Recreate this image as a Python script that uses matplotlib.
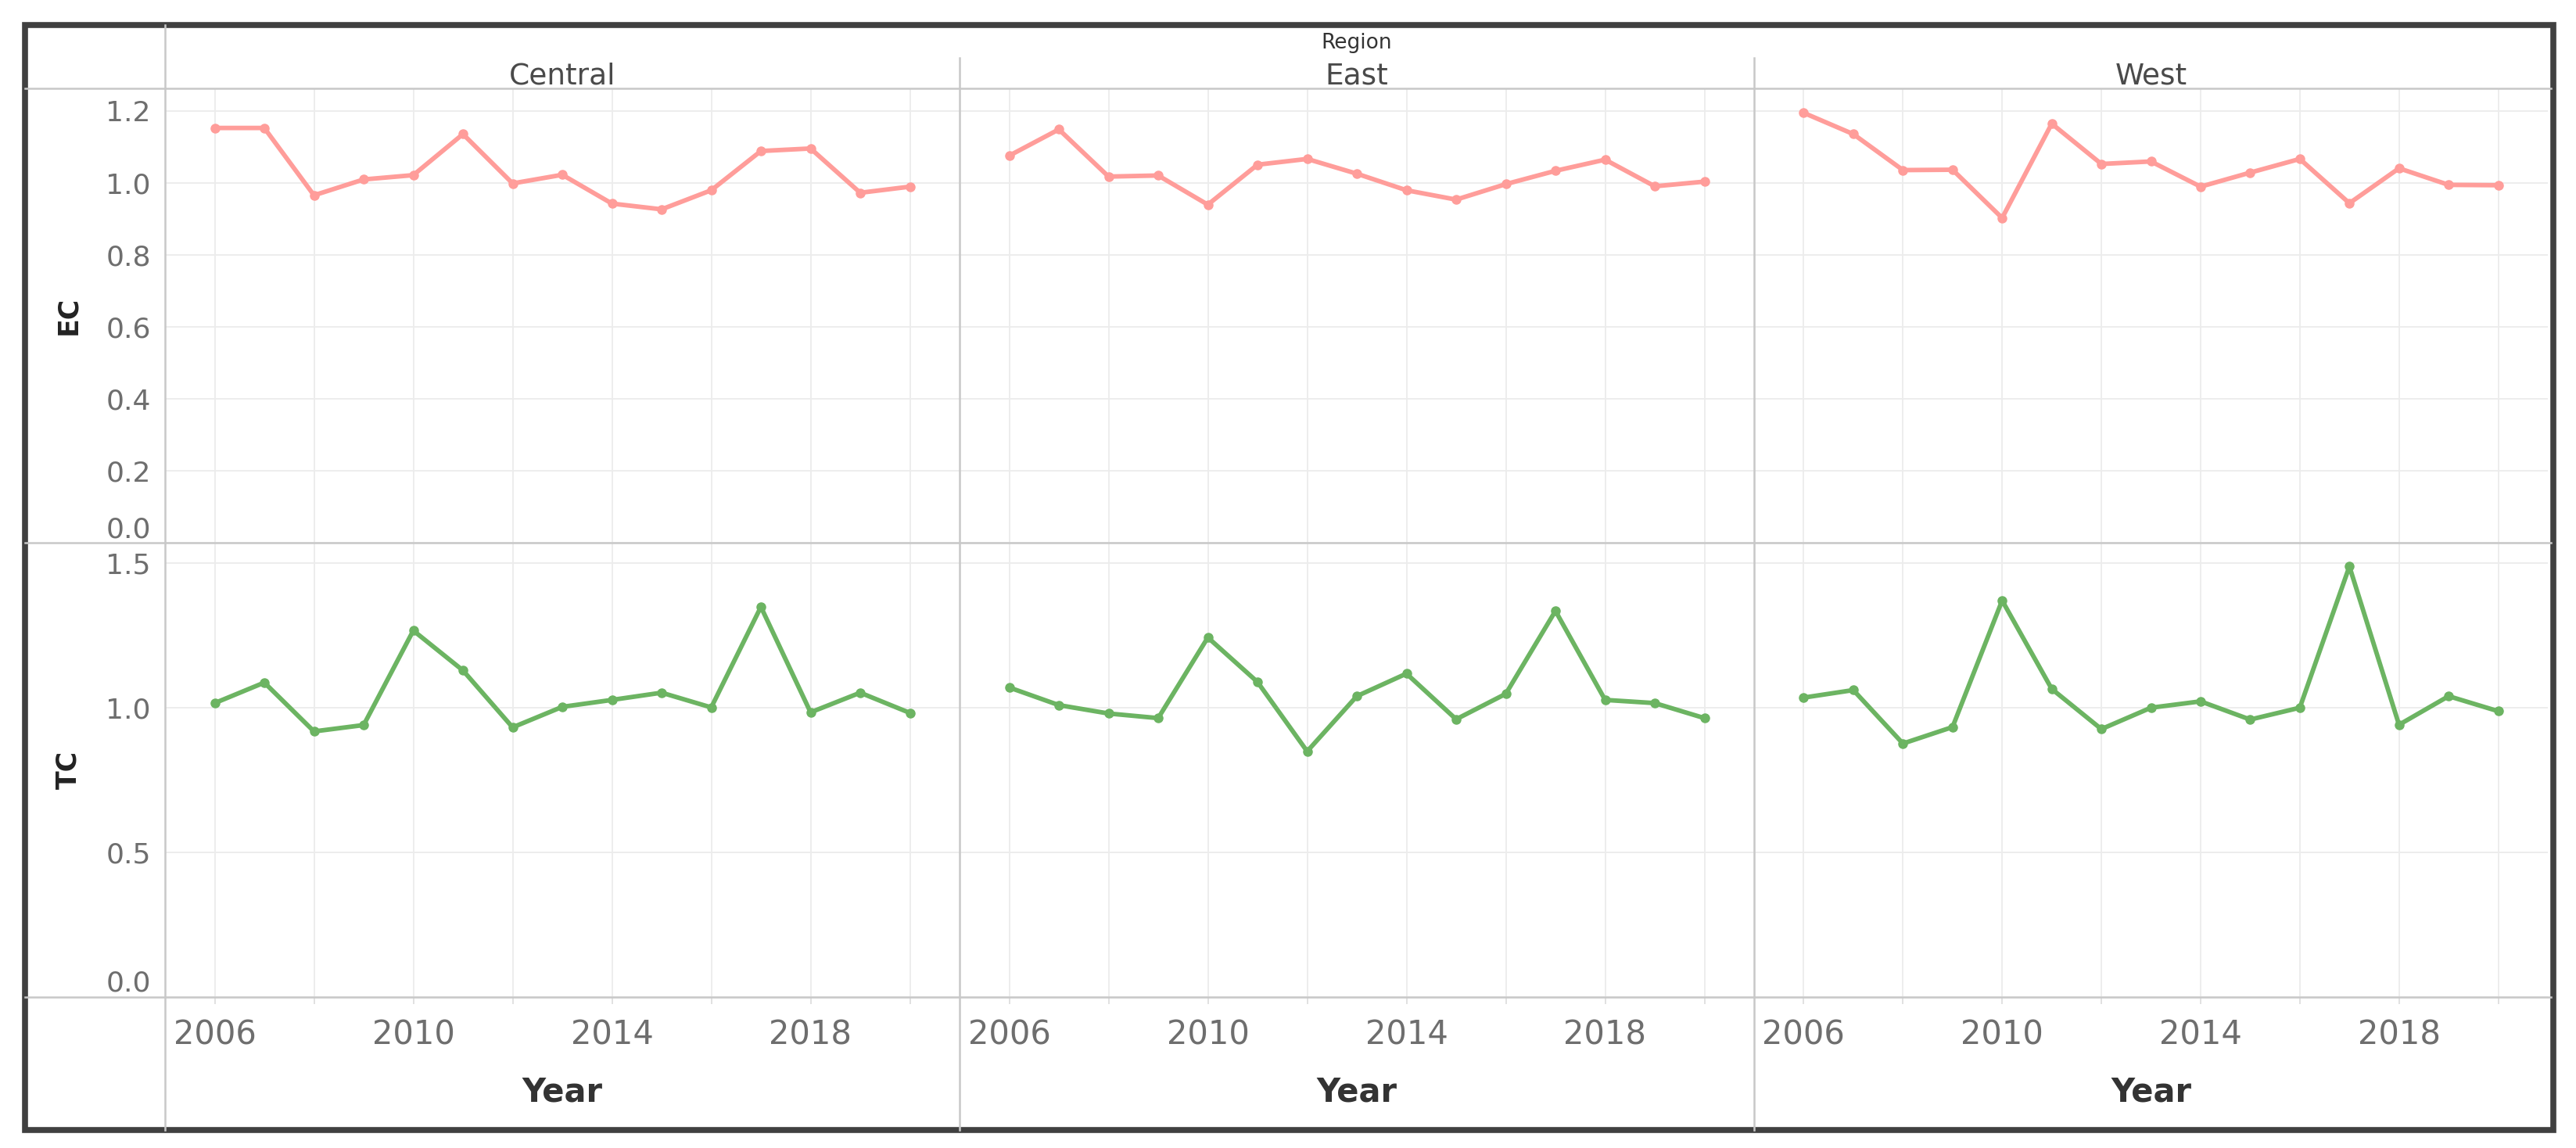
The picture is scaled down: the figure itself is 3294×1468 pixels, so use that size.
import matplotlib
matplotlib.use("Agg")
import matplotlib.pyplot as plt
from matplotlib.lines import Line2D
from matplotlib.patches import Rectangle

plt.rcParams["font.family"] = ["DejaVu Sans"]

# data (EC / TC per region, 2006-2020)
years = list(range(2006, 2021))
regions = ["Central", "East", "West"]

ec_central = [1.152, 1.152, 0.965, 1.009, 1.021, 1.135, 0.998, 1.022, 0.942, 0.926, 0.979, 1.088, 1.095, 0.972, 0.989]
ec_east = [1.075, 1.148, 1.017, 1.020, 0.939, 1.050, 1.066, 1.025, 0.979, 0.953, 0.996, 1.033, 1.064, 0.990, 1.003]
ec_west = [1.194, 1.135, 1.035, 1.036, 0.902, 1.164, 1.052, 1.059, 0.989, 1.028, 1.066, 0.943, 1.040, 0.994, 0.993]

tc_central = [1.016, 1.087, 0.918, 0.940, 1.267, 1.129, 0.932, 1.003, 1.027, 1.052, 1.001, 1.349, 0.984, 1.052, 0.982]
tc_east = [1.070, 1.009, 0.980, 0.964, 1.243, 1.089, 0.849, 1.040, 1.118, 0.960, 1.048, 1.335, 1.027, 1.016, 0.964]
tc_west = [1.035, 1.061, 0.876, 0.933, 1.371, 1.065, 0.926, 1.000, 1.022, 0.959, 1.000, 1.489, 0.941, 1.040, 0.988]

ec_ticks = [0.0, 0.2, 0.4, 0.6, 0.8, 1.0, 1.2]
tc_ticks = [0.0, 0.5, 1.0, 1.5]
year_ticks = list(range(2006, 2021, 2))
year_labels = [str(y) if (y - 2006) % 4 == 0 else "" for y in year_ticks]

EC_COLOR = "#ff9d9a"
TC_COLOR = "#6cb462"
GRID = "#ececec"
SEP = "#c8c8c8"

W, H = 3294, 1468


def fx(px):
    return px / W


def fy(py):
    return 1 - py / H


fig = plt.figure(figsize=(W / 100, H / 100), dpi=100)

col_edges = [211, 1227, 2243, 3258]
rows = [
    ("EC", 113, 694, (0, 1.262), ec_ticks, [ec_central, ec_east, ec_west], EC_COLOR),
    ("TC", 694, 1274.5, (0, 1.571), tc_ticks, [tc_central, tc_east, tc_west], TC_COLOR),
]

for ri, (name, top, bot, ylim, yticks, series, color) in enumerate(rows):
    for ci in range(3):
        x0, x1 = col_edges[ci], col_edges[ci + 1]
        ax = fig.add_axes([fx(x0), fy(bot), (x1 - x0) / W, (bot - top) / H])
        ax.set_facecolor("none")
        for s in ax.spines.values():
            s.set_visible(False)
        ax.set_xlim(2005, 2021)
        ax.set_ylim(*ylim)
        ax.set_axisbelow(True)
        ax.grid(True, color=GRID, lw=1.3)

        ax.plot(years, series[ci], color=color, lw=4.2, marker="o", ms=8,
                solid_joinstyle="round", zorder=3)

        ax.set_yticks(yticks)
        if ci == 0:
            ax.set_yticklabels([f"{t:.1f}" for t in yticks])
            ax.tick_params(axis="y", length=0, pad=13, labelsize=26,
                           labelcolor="#6e6e6e")
            ax.get_yticklabels()[0].set_va("bottom")
            ax.set_ylabel(name, fontsize=25, fontweight="bold", color="#222222",
                          labelpad=0)
            ax.yaxis.set_label_coords((104 - x0) / (x1 - x0), 0.5)
        else:
            ax.tick_params(axis="y", length=0, labelleft=False)

        ax.set_xticks(year_ticks)
        if ri == 1:
            ax.set_xticklabels(year_labels)
            ax.tick_params(axis="x", length=6.5, width=1.2, color="#dcdcdc",
                           pad=14, labelsize=30, labelcolor="#6e6e6e")
            ax.set_xlabel("Year", fontsize=30, fontweight="bold", color="#333333",
                          labelpad=22)
        else:
            ax.tick_params(axis="x", length=0, labelbottom=False)

        if ri == 0:
            fig.text(fx((x0 + x1) / 2), fy(97), regions[ci], ha="center",
                     va="center", fontsize=27, color="#4a4a4a")

fig.text(fx((col_edges[0] + col_edges[-1]) / 2), fy(55), "Region", ha="center",
         va="center", fontsize=19, color="#333333")


def hline(y, x0, x1, color=SEP, lw=1.8):
    fig.add_artist(Line2D([fx(x0), fx(x1)], [fy(y), fy(y)],
                          transform=fig.transFigure, color=color, lw=lw))


def vline(x, y0, y1, color=SEP, lw=1.8):
    fig.add_artist(Line2D([fx(x), fx(x)], [fy(y0), fy(y1)],
                          transform=fig.transFigure, color=color, lw=lw))


for y in [113, 694, 1274.5]:
    hline(y, 32, 3262)
vline(211, 32, 1445)
for x in col_edges[1:3]:
    vline(x, 74, 1445)

# outer frame
fig.add_artist(Rectangle((fx(32), fy(1445)), fx(3264.5) - fx(32), fy(31.5) - fy(1445),
                         transform=fig.transFigure, fill=False,
                         edgecolor="#404040", lw=5.5))

fig.savefig("out.png", dpi=100)
